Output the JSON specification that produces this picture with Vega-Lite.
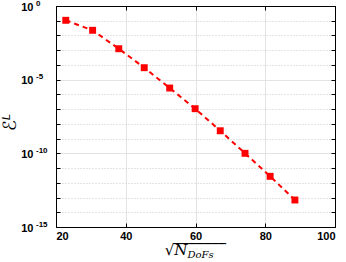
{
 "$schema": "https://vega.github.io/schema/vega-lite/v6.json",
 "width": 279, "height": 221,
 "autosize": "none",
 "padding": {"left": 56, "top": 6, "right": 11, "bottom": 35},
 "config": {
  "font": "Liberation Sans",
  "view": {"stroke": "black", "strokeWidth": 1},
  "axis": {"labelFont": "Liberation Sans", "labelFontSize": 11, "labelFontWeight": "bold", "labelColor": "black", "domainColor": "black", "tickColor": "black"}
 },
 "datasets": {
  "pts": [
   {"x": 22.8, "y": 0.107},
   {"x": 30.5, "y": 0.0224},
   {"x": 38.0, "y": 0.00126},
   {"x": 45.3, "y": 6.5e-5},
   {"x": 52.6, "y": 2.7e-6},
   {"x": 59.9, "y": 1.07e-7},
   {"x": 67.1, "y": 3.4e-9},
   {"x": 74.2, "y": 1.0e-10},
   {"x": 81.4, "y": 2.75e-12},
   {"x": 88.5, "y": 6.8e-14}
  ],
  "exps": [
   {"v": 1, "e": "0"},
   {"v": 1e-5, "e": "-5"},
   {"v": 1e-10, "e": "-10"},
   {"v": 1e-15, "e": "-15"}
  ]
 },
 "resolve": {"axis": {"x": "independent", "y": "independent"}},
 "layer": [
  {
   "data": {"name": "pts"},
   "mark": {"type": "line", "color": "#ff0000", "strokeWidth": 2, "strokeDash": [5, 4]},
   "encoding": {
    "x": {"field": "x", "type": "quantitative",
     "scale": {"domain": [20, 100], "nice": false},
     "axis": {"values": [20, 40, 60, 80, 100], "title": null, "tickSize": -4, "labelPadding": 7,
      "grid": true, "gridColor": "#e3e3e3", "gridWidth": 1}},
    "y": {"field": "y", "type": "quantitative",
     "scale": {"type": "log", "domain": [1e-15, 1], "nice": false},
     "axis": {"values": [1, 0.1, 0.01, 0.001, 0.0001, 1e-5, 1e-6, 1e-7, 1e-8, 1e-9, 1e-10, 1e-11, 1e-12, 1e-13, 1e-14, 1e-15],
      "labelExpr": "abs(round(log(datum.value)/LN10)) % 5 == 0 ? '10' : ''",
      "labelOffset": 1,
      "tickSize": -4, "labelPadding": 27,
      "title": "ℰᴸ", "titleFont": "DejaVu Sans", "titleFontStyle": "italic", "titleFontWeight": "normal", "titleFontSize": 18,
      "titleX": -46, "titleY": 116, "titleAngle": -90, "titleAlign": "center", "titleBaseline": "middle",
      "grid": true,
      "gridColor": {"condition": {"test": "abs(round(log(datum.value)/LN10)) % 5 == 0", "value": "#e3e3e3"}, "value": "#c8c8c8"},
      "gridDash": {"condition": {"test": "abs(round(log(datum.value)/LN10)) % 5 == 0", "value": []}, "value": [1, 2]}}}
   }
  },
  {
   "data": {"name": "pts"},
   "mark": {"type": "point", "shape": "square", "filled": true, "color": "#ff0000", "size": 48, "opacity": 1},
   "encoding": {
    "x": {"field": "x", "type": "quantitative",
     "axis": {"orient": "top", "values": [20, 40, 60, 80, 100], "labels": false, "title": null, "tickSize": -4, "grid": false}},
    "y": {"field": "y", "type": "quantitative",
     "axis": {"orient": "right", "values": [1, 0.1, 0.01, 0.001, 0.0001, 1e-5, 1e-6, 1e-7, 1e-8, 1e-9, 1e-10, 1e-11, 1e-12, 1e-13, 1e-14, 1e-15], "labels": false, "title": null, "tickSize": -4, "grid": false}}
   }
  },
  {
   "data": {"name": "exps"},
   "mark": {"type": "text", "align": "left", "baseline": "middle", "dx": -20, "dy": -2.5, "fontSize": 8, "fontWeight": "bold", "font": "Liberation Sans"},
   "encoding": {
    "x": {"datum": 20, "type": "quantitative", "axis": null},
    "y": {"field": "v", "type": "quantitative", "axis": null},
    "text": {"field": "e"}
   }
  },
  {
   "data": {"values": [{"t": "√N"}]},
   "mark": {"type": "text", "align": "right", "baseline": "alphabetic", "dx": -8, "dy": 28, "fontSize": 15, "font": "DejaVu Serif", "fontStyle": "italic"},
   "encoding": {
    "x": {"datum": 60, "type": "quantitative", "axis": null},
    "y": {"datum": 1e-15, "type": "quantitative", "axis": null},
    "text": {"field": "t"}
   }
  },
  {
   "data": {"values": [{"t": "‾‾‾‾‾‾‾"}]},
   "mark": {"type": "text", "align": "left", "baseline": "alphabetic", "dx": -22, "dy": 28, "fontSize": 15, "font": "DejaVu Sans"},
   "encoding": {
    "x": {"datum": 60, "type": "quantitative", "axis": null},
    "y": {"datum": 1e-15, "type": "quantitative", "axis": null},
    "text": {"field": "t"}
   }
  },
  {
   "data": {"values": [{"t": "DoFs"}]},
   "mark": {"type": "text", "align": "left", "baseline": "alphabetic", "dx": -8, "dy": 31, "fontSize": 10, "font": "DejaVu Serif", "fontStyle": "italic"},
   "encoding": {
    "x": {"datum": 60, "type": "quantitative", "axis": null},
    "y": {"datum": 1e-15, "type": "quantitative", "axis": null},
    "text": {"field": "t"}
   }
  }
 ]
}
